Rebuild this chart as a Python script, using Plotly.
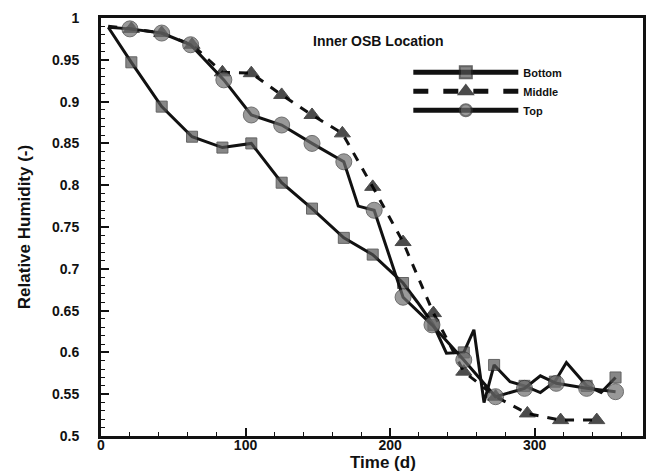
import plotly.graph_objects as go

# ---- data ----
bottom_x = [5, 21, 42, 63, 84, 104, 125, 146, 168, 188, 209, 219, 230, 239, 251, 258, 265, 272, 283, 293, 304, 314, 322, 336, 346, 356]
bottom_y = [0.989, 0.947, 0.894, 0.858, 0.845, 0.850, 0.803, 0.772, 0.737, 0.717, 0.683, 0.660, 0.633, 0.599, 0.600, 0.627, 0.540, 0.585, 0.565, 0.560, 0.552, 0.565, 0.588, 0.560, 0.552, 0.570]
bottom_marked = [0, 1, 1, 1, 1, 1, 1, 1, 1, 1, 1, 0, 1, 0, 1, 0, 0, 1, 0, 1, 0, 1, 0, 1, 0, 1]

middle_x = [5, 21, 42, 63, 84, 104, 125, 146, 167, 188, 209, 230, 251, 273, 295, 318, 343]
middle_y = [0.990, 0.987, 0.982, 0.968, 0.935, 0.934, 0.908, 0.884, 0.862, 0.798, 0.732, 0.647, 0.577, 0.547, 0.527, 0.519, 0.519]
middle_marked = [0, 1, 1, 1, 1, 1, 1, 1, 1, 1, 1, 1, 1, 1, 1, 1, 1]

top_x = [5, 20, 42, 62, 85, 104, 125, 146, 168, 178, 189, 209, 229, 251, 273, 293, 304, 315, 336, 356]
top_y = [0.989, 0.987, 0.982, 0.968, 0.926, 0.884, 0.872, 0.850, 0.828, 0.775, 0.770, 0.666, 0.633, 0.591, 0.547, 0.557, 0.572, 0.563, 0.557, 0.553]
top_marked = [0, 1, 1, 1, 1, 1, 1, 1, 1, 0, 1, 1, 1, 1, 1, 1, 0, 1, 1, 1]

series_names = ["Bottom", "Middle", "Top"]
x_ticks = [0, 100, 200, 300]
y_ticks = [0.5, 0.55, 0.6, 0.65, 0.7, 0.75, 0.8, 0.85, 0.9, 0.95, 1]

FONT = "Liberation Sans, Arial, sans-serif"
LINE = "#111111"


def sizes(flags, s):
    return [s if f else 0 for f in flags]


fig = go.Figure()
fig.add_trace(go.Scatter(
    x=bottom_x, y=bottom_y, name=series_names[0], mode="lines+markers",
    line=dict(color=LINE, width=3),
    marker=dict(symbol="square", size=sizes(bottom_marked, 11), color="#555555",
                line=dict(color="#222222", width=1)),
))
fig.add_trace(go.Scatter(
    x=middle_x, y=middle_y, name=series_names[1], mode="lines+markers",
    line=dict(color=LINE, width=3, dash="dash"),
    marker=dict(symbol="triangle-up", size=sizes(middle_marked, 14), color="#000000",
                line=dict(color="#000000", width=1)),
))
fig.add_trace(go.Scatter(
    x=top_x, y=top_y, name=series_names[2], mode="lines+markers",
    line=dict(color=LINE, width=3),
    marker=dict(symbol="circle", size=sizes(top_marked, 16), color="#6e6e6e",
                line=dict(color="#333333", width=1)),
))

fig.add_annotation(
    x=0.512, y=0.945, xref="paper", yref="paper", xanchor="center", yanchor="middle",
    text="Inner OSB Location", showarrow=False,
    font=dict(family=FONT, size=14, color="#111", weight="bold"),
)
fig.add_annotation(
    x=0.521, y=-0.09, xref="paper", yref="paper", xanchor="center", yanchor="bottom",
    text="Time (d)", showarrow=False,
    font=dict(family=FONT, size=17, color="#111", weight="bold"),
)

axis_common = dict(
    showgrid=False, zeroline=False, showline=True, linecolor="#111", linewidth=3,
    mirror=True, ticks="inside", tickcolor="#111", tickwidth=2, ticklen=8,
)

fig.update_xaxes(
    range=[0, 375], tickvals=x_ticks, ticklabelstandoff=-6,
    tickfont=dict(family=FONT, size=14, color="#111", weight="bold"),
    minor=dict(dtick=20, tick0=0, ticks="inside", ticklen=4, tickcolor="#111", tickwidth=1),
    **axis_common,
)
fig.update_yaxes(
    range=[0.5, 1.0], tickvals=y_ticks, ticklabelstandoff=16,
    tickfont=dict(family=FONT, size=14, color="#111", weight="bold"),
    minor=dict(dtick=0.01, tick0=0.5, ticks="inside", ticklen=4, tickcolor="#111", tickwidth=1),
    title=dict(text="Relative Humidity (-)", font=dict(family=FONT, size=17, color="#111", weight="bold"), standoff=18),
    **axis_common,
)

fig.update_layout(
    width=656, height=474,
    margin=dict(l=101, r=10, t=18, b=38),
    paper_bgcolor="white", plot_bgcolor="white",
    showlegend=True,
    legend=dict(
        x=0.567, y=0.905, xanchor="left", yanchor="top",
        bgcolor="rgba(0,0,0,0)", borderwidth=0,
        font=dict(family=FONT, size=11, color="#111", weight="bold"),
        itemwidth=105, tracegroupgap=0, itemsizing="constant",
    ),
)

fig.write_html("out.html")
